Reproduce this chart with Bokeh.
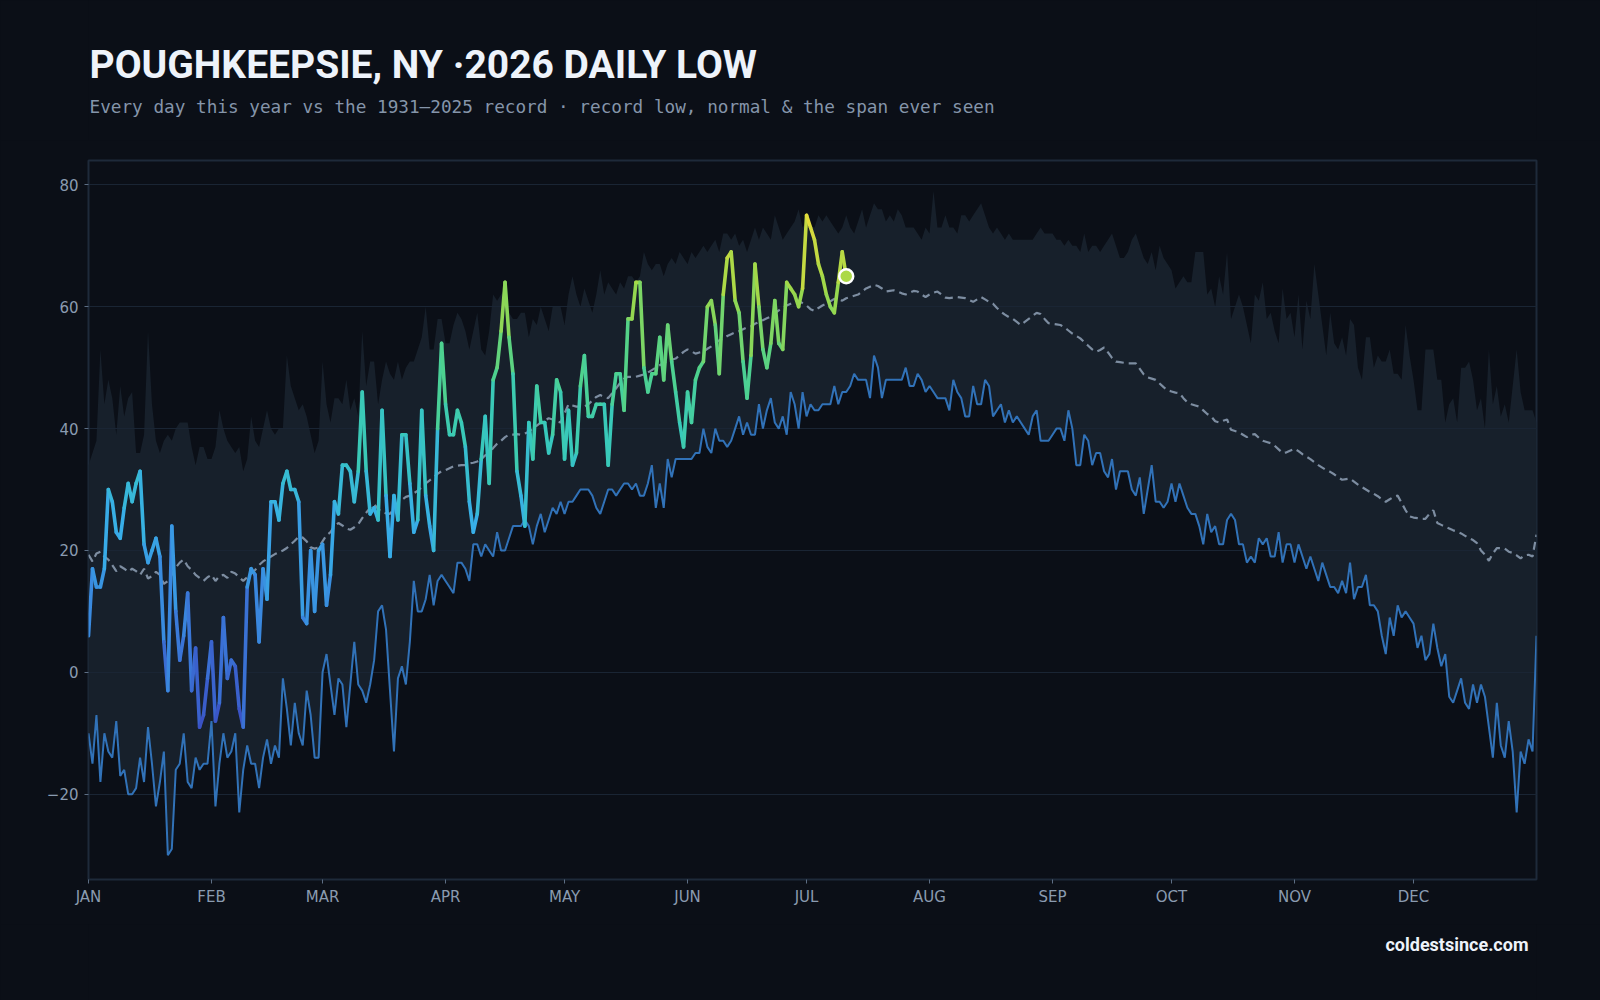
import numpy as np
from bokeh.plotting import figure
from bokeh.layouts import column
from bokeh.models import ColumnDataSource, FixedTicker, LinearColorMapper, Range1d
from bokeh.core.properties import value
from bokeh.transform import transform
from bokeh.embed import file_html
from bokeh.resources import INLINE

# ---- data -------------------------------------------------------------
month_starts = [0, 31, 59, 90, 120, 151, 181, 212, 243, 273, 304, 334]
month_labels = ["JAN", "FEB", "MAR", "APR", "MAY", "JUN",
                "JUL", "AUG", "SEP", "OCT", "NOV", "DEC"]
y_ticks = [-20, 0, 20, 40, 60, 80]

title_text = "POUGHKEEPSIE, NY \u00b72026 DAILY LOW"
subtitle_text = ("Every day this year vs the 1931\u20132025 record \u00b7 "
                 "record low, normal & the span ever seen")
footer_text = "coldestsince.com"

# warmest daily low ever recorded for each day of the year (1931-2025)
record_high = [
    34, 36, 38, 53, 44, 48, 45, 39, 47, 42,
    45, 46, 36, 36, 39, 56, 44, 38, 36, 38,
    39, 38, 40, 41, 41, 41, 37, 34, 37, 37,
    35, 35, 37, 43, 40, 38, 37, 36, 37, 33,
    35, 42, 38, 37, 40, 43, 40, 39, 40, 40,
    52, 47, 45, 43, 44, 42, 39, 36, 38, 51,
    44, 41, 45, 45, 44, 48, 43, 45, 42, 56,
    47, 51, 51, 44, 48, 51, 49, 48, 51, 48,
    50, 51, 51, 53, 55, 60, 53, 53, 58, 58,
    54, 54, 57, 59, 58, 56, 53, 56, 59, 53,
    52, 56, 62, 61, 62, 63, 59, 58, 58, 59,
    59, 55, 58, 57, 60, 58, 56, 60, 60, 60,
    57, 62, 65, 62, 60, 63, 61, 59, 62, 66,
    62, 64, 63, 62, 64, 63, 65, 65, 64, 65,
    69, 67, 66, 67, 67, 65, 67, 68, 67, 69,
    68, 67, 69, 68, 69, 70, 69, 70, 71, 69,
    72, 72, 71, 72, 70, 71, 69, 71, 73, 71,
    73, 72, 71, 75, 73, 71, 72, 73, 74, 76,
    73, 74, 73, 73, 75, 74, 75, 74, 73, 72,
    73, 75, 73, 72, 74, 76, 73, 75, 77, 76,
    76, 74, 75, 74, 76, 75, 73, 73, 73, 72,
    71, 73, 72, 79, 73, 73, 75, 73, 73, 72,
    75, 75, 74, 75, 76, 77, 75, 73, 72, 73,
    72, 71, 72, 71, 71, 71, 71, 71, 71, 72,
    73, 72, 72, 72, 71, 71, 70, 71, 70, 70,
    69, 72, 69, 70, 70, 69, 70, 71, 72, 70,
    68, 68, 69, 71, 72, 70, 68, 67, 69, 66,
    70, 68, 67, 66, 63, 64, 65, 64, 64, 69,
    69, 69, 62, 63, 60, 65, 62, 69, 58, 60,
    62, 60, 57, 54, 62, 61, 64, 58, 59, 56,
    54, 63, 58, 59, 55, 62, 53, 61, 58, 67,
    62, 57, 52, 59, 54, 53, 55, 52, 58, 57,
    50, 48, 55, 55, 50, 52, 51, 51, 53, 49,
    49, 48, 57, 52, 48, 43, 43, 53, 53, 53,
    48, 48, 41, 44, 45, 41, 50, 50, 51, 48,
    43, 45, 40, 53, 44, 47, 42, 44, 41, 47,
    53, 46, 43, 43, 43, 41,
]

# coldest daily low ever recorded for each day of the year (1931-2025)
record_low = [
    -10, -15, -7, -18, -10, -13, -14, -8, -17, -16,
    -20, -20, -19, -14, -18, -9, -15, -22, -18, -13,
    -30, -29, -16, -15, -10, -18, -19, -14, -16, -15,
    -15, -8, -22, -15, -10, -14, -13, -10, -23, -16,
    -12, -15, -15, -19, -14, -11, -15, -12, -14, -1,
    -6, -12, -5, -10, -12, -3, -7, -14, -14, 0,
    3, -2, -7, -1, -2, -9, -2, 5, -2, -3,
    -5, -2, 2, 10, 11, 7, -3, -13, -1, 1,
    -2, 5, 15, 10, 10, 12, 16, 11, 15, 16,
    15, 14, 13, 18, 18, 17, 15, 21, 21, 19,
    21, 20, 19, 23, 20, 20, 22, 24, 24, 24,
    25, 24, 21, 24, 26, 23, 25, 27, 26, 28,
    26, 28, 28, 29, 30, 30, 30, 29, 27, 26,
    28, 30, 30, 29, 30, 31, 31, 30, 31, 29,
    29, 31, 34, 27, 31, 27, 35, 32, 35, 35,
    35, 35, 35, 36, 36, 40, 37, 36, 40, 38,
    38, 37, 38, 40, 42, 39, 41, 39, 39, 44,
    40, 43, 45, 41, 40, 42, 39, 46, 44, 40,
    46, 42, 44, 43, 43, 44, 44, 44, 47, 44,
    46, 46, 47, 49, 48, 48, 48, 45, 52, 50,
    45, 48, 48, 48, 48, 48, 50, 47, 47, 49,
    48, 46, 47, 46, 45, 45, 45, 43, 48, 46,
    45, 42, 42, 47, 44, 44, 48, 47, 42, 43,
    44, 41, 43, 41, 42, 41, 40, 39, 42, 43,
    38, 38, 38, 39, 40, 40, 38, 43, 40, 34,
    34, 39, 38, 34, 36, 36, 33, 32, 35, 30,
    33, 33, 33, 30, 29, 32, 26, 30, 34, 28,
    28, 27, 28, 31, 28, 31, 29, 27, 26, 26,
    24, 21, 26, 23, 24, 21, 21, 25, 26, 25,
    21, 21, 18, 19, 18, 22, 21, 22, 19, 19,
    23, 18, 21, 21, 18, 21, 19, 17, 19, 17,
    15, 18, 16, 14, 14, 13, 15, 13, 18, 12,
    14, 14, 16, 11, 11, 10, 6, 3, 9, 6,
    11, 9, 10, 9, 8, 4, 6, 2, 3, 8,
    4, 1, 3, -4, -5, -3, -1, -5, -6, -2,
    -5, -2, -4, -9, -14, -5, -12, -14, -8, -13,
    -23, -13, -15, -11, -13, 6,
]

# normal daily low
normal = [
    19.3, 18.2, 19.5, 19.8, 19.0, 18.5, 17.6, 16.6, 17.4, 17.0,
    16.5, 17.0, 16.6, 16.0, 17.0, 15.4, 15.8, 16.5, 16.0, 14.5,
    15.0, 16.0, 17.2, 18.0, 18.5, 17.4, 16.8, 16.0, 15.5, 15.0,
    15.6, 16.0, 15.0, 15.8, 16.0, 15.5, 16.5, 16.2, 15.6, 15.0,
    15.6, 16.2, 16.8, 17.6, 18.2, 18.6, 19.0, 19.4, 19.7, 20.0,
    20.4, 21.0, 21.6, 22.3, 22.1, 21.5, 20.5, 20.3, 20.5, 21.5,
    22.5, 23.0, 24.0, 24.5, 24.1, 23.6, 23.4, 23.8, 24.3, 25.3,
    26.2, 27.0, 27.6, 26.8, 26.3, 26.1, 26.0, 27.2, 27.8, 28.3,
    28.8, 29.0, 29.4, 29.8, 30.4, 31.0, 31.5, 32.0, 32.6, 33.0,
    33.2, 33.5, 33.8, 33.9, 34.0, 34.0, 34.3, 34.4, 34.6, 35.0,
    35.6, 36.0, 36.8, 37.5, 38.0, 38.6, 39.0, 39.0, 39.1, 39.0,
    39.2, 39.5, 40.0, 40.5, 41.0, 41.3, 41.7, 41.5, 41.2, 41.0,
    42.5, 44.0, 43.8, 43.6, 43.6, 43.6, 44.0, 44.6, 45.2, 45.5,
    45.2, 45.0, 45.8, 46.6, 47.5, 48.2, 48.5, 48.5, 48.5, 48.7,
    48.9, 49.2, 49.6, 50.0, 50.4, 50.8, 51.1, 51.3, 51.5, 52.0,
    52.6, 53.0, 52.7, 52.3, 52.5, 52.6, 53.1, 53.5, 54.0, 54.5,
    54.8, 55.2, 55.5, 55.8, 56.0, 56.3, 56.6, 56.8, 57.2, 57.5,
    57.8, 58.1, 58.4, 58.9, 59.4, 59.8, 60.2, 60.5, 60.8, 61.0,
    60.6, 60.2, 59.6, 59.3, 59.8, 60.2, 60.5, 60.9, 61.3, 61.2,
    61.0, 61.4, 61.6, 61.8, 62.0, 62.5, 63.0, 63.3, 63.6, 63.4,
    63.0, 62.5, 62.6, 62.7, 62.5, 62.2, 62.0, 62.3, 62.6, 62.5,
    62.0, 61.6, 62.0, 62.3, 62.5, 62.0, 61.5, 61.4, 61.5, 61.6,
    61.5, 61.4, 61.1, 60.8, 61.2, 61.6, 61.2, 60.8, 60.5, 59.8,
    59.2, 58.7, 58.3, 58.0, 57.5, 57.0, 57.5, 58.0, 58.5, 59.0,
    58.8, 58.0, 57.3, 57.2, 57.1, 57.0, 56.6, 56.1, 55.6, 55.2,
    54.8, 54.2, 53.6, 53.0, 52.6, 52.9, 53.3, 52.5, 51.6, 51.0,
    50.9, 50.8, 50.7, 50.7, 50.7, 49.8, 48.9, 48.4, 48.2, 48.0,
    47.4, 46.8, 46.3, 46.1, 45.9, 45.8, 45.0, 44.3, 44.0, 43.8,
    43.6, 43.0, 42.4, 42.0, 41.2, 41.0, 41.3, 41.5, 39.8, 39.6,
    39.4, 39.0, 38.6, 39.0, 39.1, 38.5, 38.0, 37.8, 37.6, 37.2,
    36.6, 36.0, 36.1, 36.4, 36.7, 36.3, 35.8, 35.4, 35.0, 34.5,
    34.0, 33.6, 33.2, 32.9, 32.5, 32.0, 31.6, 31.7, 31.8, 31.3,
    30.8, 30.4, 30.0, 29.6, 29.3, 28.9, 28.4, 28.0, 28.4, 28.8,
    29.0, 27.8, 26.6, 25.6, 25.4, 25.3, 25.2, 25.2, 26.0, 26.6,
    24.5, 24.2, 23.9, 23.6, 23.3, 23.1, 22.8, 22.4, 22.0, 21.7,
    21.2, 20.0, 19.3, 18.3, 19.5, 20.4, 20.4, 20.3, 19.8, 19.6,
    19.2, 18.7, 19.2, 19.3, 19.0, 22.6,
]

# 2026 observed daily lows, Jan 1 - Jul 11
low_2026 = [
    6, 17, 14, 14, 17, 30, 28, 23, 22, 27,
    31, 28, 31, 33, 21, 18, 20, 22, 19, 5,
    -3, 24, 10, 2, 6, 13, -3, 4, -9, -7,
    -1, 5, -8, -5, 9, -1, 2, 1, -6, -9,
    14, 17, 16, 5, 17, 12, 28, 28, 25, 31,
    33, 30, 30, 28, 9, 8, 20, 10, 20, 21,
    11, 16, 28, 26, 34, 34, 33, 28, 33, 46,
    33, 26, 27, 25, 43, 29, 19, 29, 25, 39,
    39, 31, 23, 25, 43, 29, 24, 20, 40, 54,
    44, 39, 39, 43, 41, 37, 28, 23, 26, 35,
    42, 31, 48, 50, 56, 64, 55, 49, 33, 29,
    24, 41, 35, 47, 41, 41, 36, 39, 48, 46,
    35, 43, 34, 36, 47, 52, 42, 42, 44, 44,
    44, 34, 44, 49, 49, 43, 58, 58, 64, 64,
    50, 46, 49, 49, 55, 48, 57, 51, 46, 41,
    37, 46, 41, 48, 50, 51, 60, 61, 57, 49,
    62, 68, 69, 61, 59, 51, 45, 52, 67, 60,
    53, 50, 54, 61, 54, 53, 64, 63, 62, 60,
    63, 75, 73, 71, 67, 65, 62, 60, 59, 64,
    69, 65,
]

# ---- styling ---------------------------------------------------------
BG = "#0b0f17"
BAND = "#17202b"
GRID = "#1a2534"
FRAME = "#1e2a3a"
TICK_TEXT = "#8a9bb0"
RECORD_LOW_COLOR = "#3172b8"
NORMAL_COLOR = "#7d8da1"
TITLE_COLOR = "#eef3fa"
SUBTITLE_COLOR = "#8595aa"

W = 1600
LEFT, RIGHT = 88, 64            # side borders shared by every strip
HEADER_H = 140
FOOTER_H = 76
MAIN_H = 1000 - HEADER_H - FOOTER_H


def hex_to_rgb(h):
    h = h.lstrip("#")
    return tuple(int(h[i:i + 2], 16) for i in (0, 2, 4))


def build_palette(stops, n=256):
    pos = np.array([s[0] for s in stops])
    rgb = np.array([hex_to_rgb(s[1]) for s in stops], dtype=float)
    t = np.linspace(0, 1, n)
    chans = [np.interp(t, pos, rgb[:, k]) for k in range(3)]
    return ["#%02x%02x%02x" % (int(round(r)), int(round(g)), int(round(b)))
            for r, g, b in zip(*chans)]


palette = build_palette([
    (0.00, "#3a4fc4"),
    (0.20, "#3a80dc"),
    (0.40, "#38aee8"),
    (0.56, "#37c8bd"),
    (0.70, "#4fd28c"),
    (0.85, "#9bd84a"),
    (1.00, "#e8dc3a"),
])


def text_panel(height):
    """A bare strip whose data space equals page pixels (y downwards)."""
    f = figure(width=W, height=height, output_backend="svg", toolbar_location=None,
               x_range=Range1d(LEFT, W - RIGHT), y_range=Range1d(height, 0),
               x_axis_type=None, y_axis_type=None)
    f.min_border_left = LEFT
    f.min_border_right = RIGHT
    f.min_border_top = 0
    f.min_border_bottom = 0
    f.background_fill_color = BG
    f.border_fill_color = BG
    f.outline_line_color = None
    f.grid.visible = False
    return f


# ---- header ----------------------------------------------------------
header = text_panel(HEADER_H)
header.text(x=[89], y=[64], text=[title_text], text_font=value("Roboto"),
            text_font_style="bold", text_font_size="39px", text_color=TITLE_COLOR,
            text_baseline="middle", text_align="left")
header.text(x=[89], y=[106], text=[subtitle_text], text_font=value("DejaVu Sans Mono"),
            text_font_size="17.7px", text_color=SUBTITLE_COLOR,
            text_baseline="middle", text_align="left")

# ---- main chart ------------------------------------------------------
days = list(range(len(record_low)))

p = figure(width=W, height=MAIN_H, output_backend="svg", toolbar_location=None,
           x_range=Range1d(0, 365), y_range=Range1d(-34, 84))
p.min_border_left = LEFT
p.min_border_right = RIGHT
p.min_border_top = 160 - HEADER_H
p.min_border_bottom = MAIN_H - (160 - HEADER_H) - 719
p.background_fill_color = BG
p.border_fill_color = BG
p.outline_line_color = FRAME
p.outline_line_width = 2

# record span band
band_src = ColumnDataSource(dict(x=days, lo=record_low, hi=record_high))
band = p.varea(x="x", y1="lo", y2="hi", source=band_src, fill_color=BAND)
band.level = "image"

# grid / axes
p.xgrid.visible = False
p.ygrid.grid_line_color = GRID
p.ygrid.grid_line_width = 1

for ax in (p.xaxis[0], p.yaxis[0]):
    ax.axis_line_color = None
    ax.major_tick_line_color = "#5d6e84"
    ax.major_tick_line_width = 1
    ax.major_tick_out = 4
    ax.major_tick_in = 0
    ax.minor_tick_line_color = None
    ax.major_label_text_color = TICK_TEXT
    ax.major_label_text_font = "DejaVu Sans"
    ax.major_label_text_font_size = "15px"
    ax.major_label_standoff = 6
p.xaxis.major_label_standoff = 4

p.xaxis.ticker = FixedTicker(ticks=month_starts)
p.xaxis.major_label_overrides = {d: m for d, m in zip(month_starts, month_labels)}
p.yaxis.ticker = FixedTicker(ticks=y_ticks)
p.yaxis.major_label_overrides = {v: (f"\u2212{abs(v)}" if v < 0 else str(v)) for v in y_ticks}

# record low and normal
p.line(days, record_low, line_color=RECORD_LOW_COLOR, line_width=2)
p.line(days, normal, line_color=NORMAL_COLOR, line_width=2.2, line_dash="8 5")

# 2026 daily lows, coloured by temperature
mapper = LinearColorMapper(palette=palette, low=min(low_2026), high=max(low_2026))
x26 = list(range(len(low_2026)))
seg_src = ColumnDataSource(dict(
    x0=x26[:-1], x1=x26[1:],
    y0=low_2026[:-1], y1=low_2026[1:],
    mid=[(a + b) / 2 for a, b in zip(low_2026[:-1], low_2026[1:])],
))
p.segment(x0="x0", y0="y0", x1="x1", y1="y1", source=seg_src,
          line_color=transform("mid", mapper), line_width=3.6, line_cap="round")

last_src = ColumnDataSource(dict(x=[x26[-1]], y=[low_2026[-1]]))
p.scatter(x="x", y="y", source=last_src, size=14,
          fill_color=transform("y", mapper), line_color="#ffffff", line_width=2.5)

# ---- footer ----------------------------------------------------------
footer = text_panel(FOOTER_H)
footer.text(x=[1528], y=[944 - (HEADER_H + MAIN_H)], text=[footer_text],
            text_font=value("Roboto"), text_font_style="bold", text_font_size="18px",
            text_color=TITLE_COLOR, text_baseline="middle", text_align="right")

layout = column(header, p, footer, spacing=0, background=BG)
open("out.html", "w").write(file_html(layout, INLINE))
